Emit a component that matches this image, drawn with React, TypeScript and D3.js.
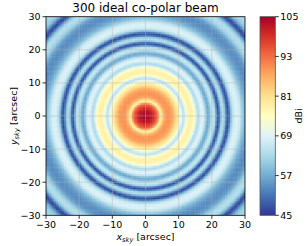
import React from 'react';
import * as d3 from 'd3';

const TITLE = '300 ideal co-polar beam';
const AXIS_TICKS = [-30, -20, -10, 0, 10, 20, 30];
const GRID_TICKS = [-20, -10, 0, 10, 20];
const CBAR_TICKS = [45, 57, 69, 81, 93, 105];
const CBAR_RANGE = [45, 105];

// radial beam profile in dBi, sampled every RADIUS_STEP arcsec from the centre
const RADIUS_STEP = 0.5;
const BEAM_DBI = [
  104.5, 104.3, 103.8, 103, 101.5, 99.5, 97, 94, 89, 76,
  81, 86, 88.5, 89.5, 89.5, 89, 88, 86, 83, 80,
  78, 74, 68, 64, 69, 75, 77.5, 78, 77.5, 76,
  72, 65, 63, 67, 69, 68, 64, 58, 56, 60,
  65, 66, 62, 52, 46, 55, 63, 64, 58, 50,
  46, 55, 62, 66, 68, 68.5, 68, 66, 63, 60,
  58, 56, 55, 54, 53.5, 53.5, 54, 55, 57, 60,
  62, 63.5, 64, 63, 60, 55, 49, 46, 50, 55,
  59, 61, 62, 62.5, 62.5, 62, 61.5,
];

const CELL = 0.5; // map pixel size, arcsec

const plot = { left: 46, right: 245, top: 16.7, bottom: 215.3 };
const cbar = { left: 260, right: 275.3 };
const FONT = 'DejaVu Sans, sans-serif';

const x = d3.scaleLinear().domain([-30, 30]).range([plot.left, plot.right]);
const y = d3.scaleLinear().domain([-30, 30]).range([plot.bottom, plot.top]);
const cy = d3.scaleLinear().domain(CBAR_RANGE).range([plot.bottom, plot.top]);

const stops = d3.schemeRdYlBu[11].slice().reverse();
const cmap = d3.piecewise(d3.interpolateRgb, stops);
const color = d3.scaleSequential(cmap).domain(CBAR_RANGE).clamp(true);

const radial = d3.scaleLinear()
  .domain(BEAM_DBI.map((_, i) => i * RADIUS_STEP))
  .range(BEAM_DBI)
  .clamp(true);

const fmt = (v: number) => (v < 0 ? '\u2212' : '') + Math.abs(v);

const cells: { cx: number; cy: number; v: number }[] = [];
const n = Math.round(60 / CELL);
for (let i = 0; i < n; i++) {
  for (let j = 0; j < n; j++) {
    const px = -30 + (i + 0.5) * CELL;
    const py = -30 + (j + 0.5) * CELL;
    cells.push({ cx: px, cy: py, v: radial(Math.hypot(px, py)) });
  }
}

const App: React.FC = () => {
  const cw = x(CELL) - x(0);
  const ch = y(0) - y(CELL);
  return (
    <svg width={307} height={246} style={{ position: 'absolute', left: 0, top: 0, background: '#fff' }}
      fontFamily={FONT}>
      <defs>
        <clipPath id="plotclip">
          <rect x={plot.left} y={plot.top} width={plot.right - plot.left} height={plot.bottom - plot.top} />
        </clipPath>
        <linearGradient id="cbgrad" x1="0" y1="1" x2="0" y2="0">
          {stops.map((c, i) => (
            <stop key={i} offset={i / (stops.length - 1)} stopColor={c} />
          ))}
        </linearGradient>
      </defs>

      {/* beam map */}
      <g clipPath="url(#plotclip)">
        {cells.map((d, k) => (
          <rect key={k}
            x={x(d.cx - CELL / 2)} y={y(d.cy + CELL / 2)}
            width={cw + 0.4} height={ch + 0.4}
            fill={color(d.v)} />
        ))}
        {GRID_TICKS.map(t => (
          <g key={t} stroke="#b0b0b0" strokeOpacity={0.55} strokeWidth={0.8}>
            <line x1={x(t)} x2={x(t)} y1={plot.top} y2={plot.bottom} />
            <line x1={plot.left} x2={plot.right} y1={y(t)} y2={y(t)} />
          </g>
        ))}
      </g>
      <rect x={plot.left} y={plot.top} width={plot.right - plot.left} height={plot.bottom - plot.top}
        fill="none" stroke="#000" strokeWidth={0.8} />

      {/* x axis */}
      {AXIS_TICKS.map(t => (
        <g key={'x' + t}>
          <line x1={x(t)} x2={x(t)} y1={plot.bottom} y2={plot.bottom + 3.5} stroke="#000" strokeWidth={0.8} />
          <text x={x(t)} y={plot.bottom + 12.5} textAnchor="middle" fontSize={9.5}>{fmt(t)}</text>
        </g>
      ))}
      {/* y axis */}
      {AXIS_TICKS.map(t => (
        <g key={'y' + t}>
          <line x1={plot.left - 3.5} x2={plot.left} y1={y(t)} y2={y(t)} stroke="#000" strokeWidth={0.8} />
          <text x={plot.left - 5.5} y={y(t) + 3.4} textAnchor="end" fontSize={9.5}>{fmt(t)}</text>
        </g>
      ))}

      <text x={(plot.left + plot.right) / 2} y={239.5} textAnchor="middle" fontSize={9.5}>
        <tspan fontStyle="italic">x</tspan>
        <tspan fontStyle="italic" fontSize={6.7} dy={2}>sky</tspan>
        <tspan dy={-2}> [arcsec]</tspan>
      </text>
      <text transform={`translate(16.5, ${(plot.top + plot.bottom) / 2}) rotate(-90)`} textAnchor="middle" fontSize={9.5}>
        <tspan fontStyle="italic">y</tspan>
        <tspan fontStyle="italic" fontSize={6.7} dy={2}>sky</tspan>
        <tspan dy={-2}> [arcsec]</tspan>
      </text>

      <text x={(plot.left + plot.right) / 2} y={11.5} textAnchor="middle" fontSize={12}>{TITLE}</text>

      {/* colorbar */}
      <rect x={cbar.left} y={plot.top} width={cbar.right - cbar.left} height={plot.bottom - plot.top}
        fill="url(#cbgrad)" stroke="#555" strokeWidth={0.8} />
      {CBAR_TICKS.map(t => (
        <g key={'c' + t}>
          <line x1={cbar.right} x2={cbar.right + 3.5} y1={cy(t)} y2={cy(t)} stroke="#000" strokeWidth={0.8} />
          <text x={cbar.right + 5} y={cy(t) + 3.4} fontSize={9.5}>{t}</text>
        </g>
      ))}
      <text transform={`translate(301.5, ${(plot.top + plot.bottom) / 2}) rotate(-90)`} textAnchor="middle" fontSize={9.5}>dBi</text>
    </svg>
  );
};

export default App;
